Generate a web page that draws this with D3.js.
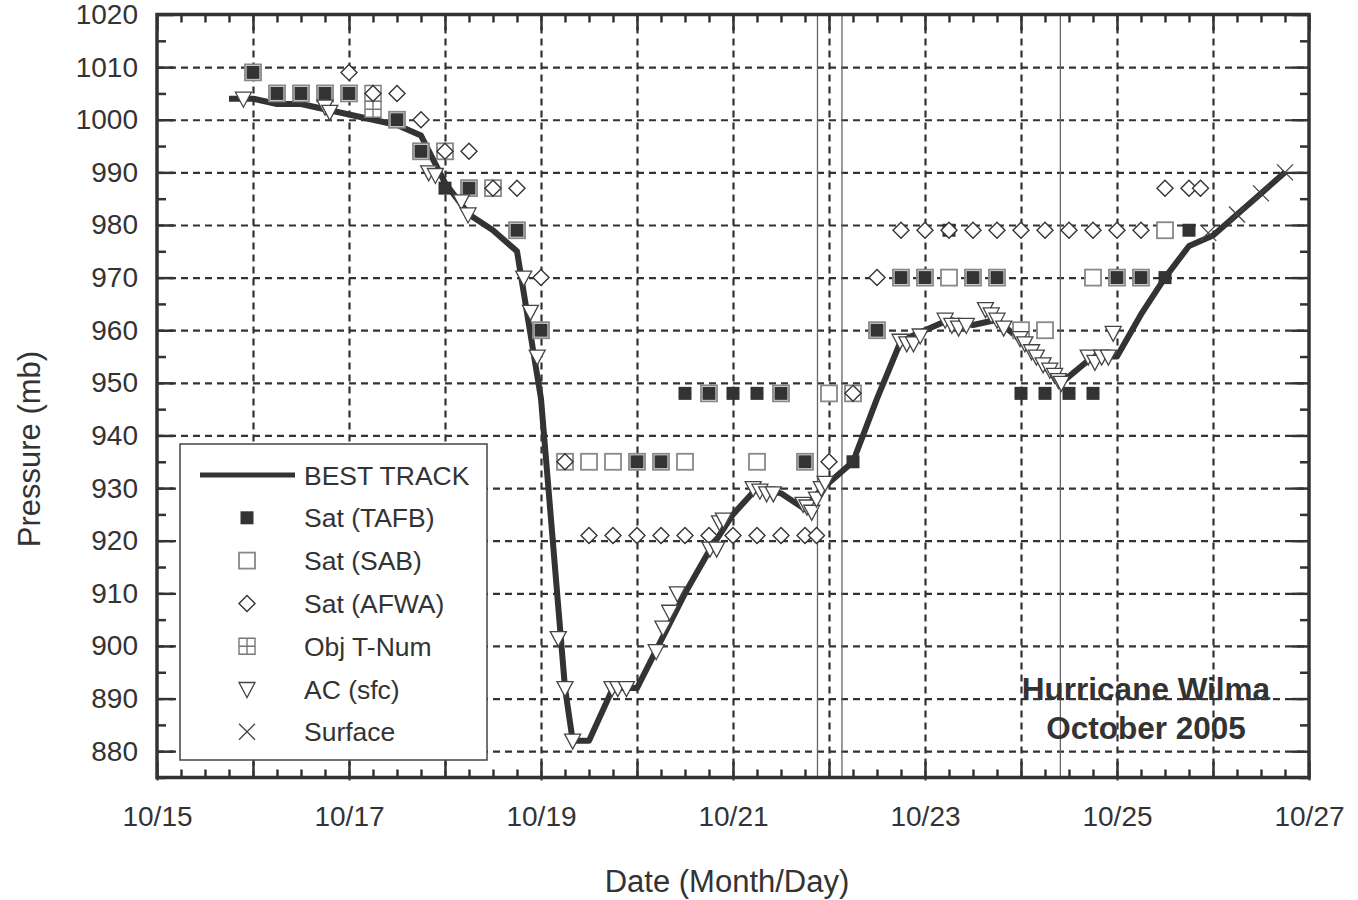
<!DOCTYPE html>
<meta charset="utf-8">
<script src="https://d3js.org/d3.v7.min.js"></script>
<style>
  body { margin: 0; background: #fff; }
  text { font-family: "Liberation Sans", Arial, Helvetica, sans-serif; fill: #333; }
</style>
<div id="my_dataviz"></div>
<script>

// data: day of October (UTC, fractional) and pressure in mb
var bestTrack = [[15.75,1004],[16,1004],[16.25,1003],[16.5,1003],[16.75,1002],[17,1001],[17.25,1000],[17.5,999],[17.75,997],
  [18,988],[18.25,982],[18.5,979],[18.75,975],[19,947],[19.25,892],[19.33,882],[19.5,882],[19.75,892],[20,892],[20.25,901],
  [20.5,910],[20.75,918],[21,925],[21.25,930],[21.5,929],[21.75,926],[21.88,929],[22,931],[22.25,935],[22.5,947],[22.75,958],
  [23,960],[23.25,962],[23.5,961],[23.75,962],[24,958],[24.25,953],[24.42,950],[24.75,955],[25,955],[25.25,963],[25.5,970],
  [25.75,976],[26,978],[26.25,982],[26.5,986],[26.75,990]];

var satTAFB = [[16,1009],[16.25,1005],[16.5,1005],[16.75,1005],[17,1005],[17.5,1000],[17.75,994],[18,987],[18.25,987],[18.75,979],
  [19,960],[20,935],[20.25,935],[21.75,935],[22.25,935],[20.5,948],[20.75,948],[21,948],[21.25,948],[21.5,948],[22.5,960],
  [22.75,970],[23,970],[23.25,979],[23.5,970],[23.75,970],[24,948],[24.25,948],[24.5,948],[24.75,948],[25,970],[25.25,970],
  [25.5,970],[25.75,979]];

var satSAB = [[16,1009],[16.25,1005],[16.5,1005],[16.75,1005],[17,1005],[17.5,1000],[17.75,994],[18,994],[18.25,987],[18.5,987],
  [18.75,979],[19,960],[19.25,935],[19.5,935],[19.75,935],[20,935],[20.25,935],[20.5,935],[21.25,935],[21.75,935],[20.75,948],
  [21.5,948],[22,948],[22.25,948],[22.5,960],[22.75,970],[23,970],[23.25,970],[23.5,970],[23.75,970],[24,960],[24.25,960],
  [24.75,970],[25,970],[25.25,970],[25.5,979]];

var satAFWA = [[17,1009],[17.25,1005],[17.5,1005],[17.75,1000],[18,994],[18.25,994],[18.5,987],[18.75,987],[19,970],[19.25,935],
  [19.5,921],[19.75,921],[20,921],[20.25,921],[20.5,921],[20.75,921],[21,921],[21.25,921],[21.5,921],[21.75,921],[21.87,921],
  [22,935],[22.25,948],[22.5,970],[22.75,979],[23,979],[23.25,979],[23.5,979],[23.75,979],[24,979],[24.25,979],[24.5,979],
  [24.75,979],[25,979],[25.25,979],[25.5,987],[25.75,987],[25.87,987]];

var objTNum = [[17.25,1005],[17.25,1002]];

var acSfc = [[15.9,1004],[16.75,1002.5],[16.8,1001.5],[17.83,990],[17.9,989.5],[18.17,984.5],[18.24,982],[18.82,970],[18.89,963.5],
  [18.96,955],[19.18,901.5],[19.25,892],[19.33,882],[19.74,892],[19.8,892],[19.89,892],[20.2,899],[20.27,903.5],[20.34,906.5],
  [20.42,910],[20.76,918.5],[20.83,918.5],[20.86,923.5],[20.9,924],[21.21,930],[21.28,929.5],[21.35,929],[21.42,929],
  [21.73,927],[21.77,926.5],[21.82,925.5],[21.87,928],[21.92,930],[21.96,931],[22.74,958],[22.81,957.5],[22.88,957.5],
  [22.95,959],[23.21,962],[23.28,961],[23.35,960.5],[23.43,961],[23.63,964],[23.69,963],[23.75,962],[23.82,960.5],
  [23.99,958.5],[24.04,957.5],[24.11,956],[24.16,955],[24.23,953.5],[24.3,952.5],[24.35,951.5],[24.39,950.5],[24.42,950],
  [24.7,955],[24.77,954],[24.84,955],[24.91,955],[24.96,959.5]];

var surface = [[25.95,978.5],[26.25,982],[26.5,986],[26.75,990]];

var landfalls = [21.88, 22.135, 24.41];

var xLabelDays = [15, 17, 19, 21, 23, 25, 27];
var yLabels = [880, 890, 900, 910, 920, 930, 940, 950, 960, 970, 980, 990, 1000, 1010, 1020];

// dimensions of the plot box
var plotL = 157, plotR = 1309, plotT = 14.5, plotB = 777.5;
var plotW = plotR - plotL, plotH = plotB - plotT;
var ink = "#333";

var svg = d3.select("#my_dataviz")
  .append("svg")
    .attr("width", 1358)
    .attr("height", 900);

var x = d3.scaleLinear().domain([15, 27]).range([plotL, plotR]);
var y = d3.scaleLinear().domain([875, 1020]).range([plotB, plotT]);

// grid
svg.append("g")
  .attr("transform", "translate(0," + plotB + ")")
  .call(d3.axisBottom(x).tickValues(d3.range(16, 27)).tickSize(-plotH).tickFormat(""))
  .call(function(g) { g.select(".domain").remove(); })
  .selectAll("line").attr("stroke", ink).attr("stroke-width", 2.2).attr("stroke-dasharray", "7,5");
svg.append("g")
  .attr("transform", "translate(" + plotL + ",0)")
  .call(d3.axisLeft(y).tickValues(d3.range(880, 1020, 10)).tickSize(-plotW).tickFormat(""))
  .call(function(g) { g.select(".domain").remove(); })
  .selectAll("line").attr("stroke", ink).attr("stroke-width", 2.2).attr("stroke-dasharray", "7,5");

// landfall lines
svg.selectAll("line.landfall")
  .data(landfalls)
  .enter()
  .append("line")
    .attr("class", "landfall")
    .attr("x1", function(d) { return x(d); })
    .attr("x2", function(d) { return x(d); })
    .attr("y1", plotT)
    .attr("y2", plotB)
    .attr("stroke", "#666")
    .attr("stroke-width", 1.3);

// inward ticks on all four sides
function ticks(axis, transform) {
  svg.append("g")
    .attr("transform", transform)
    .call(axis)
    .call(function(g) { g.select(".domain").remove(); })
    .selectAll("line").attr("stroke", ink).attr("stroke-width", 2.5);
}
var quarterDays = d3.range(15, 27.01, 0.25).filter(function(d) { return d % 1 != 0; });
var wholeDays = d3.range(15, 28);
var halfTens = d3.range(875, 1020, 10);
var tens = d3.range(880, 1021, 10);
ticks(d3.axisBottom(x).tickValues(quarterDays).tickSize(-8).tickFormat(""), "translate(0," + plotB + ")");
ticks(d3.axisTop(x).tickValues(quarterDays).tickSize(-8).tickFormat(""), "translate(0," + plotT + ")");
ticks(d3.axisBottom(x).tickValues(wholeDays).tickSize(-16).tickFormat(""), "translate(0," + plotB + ")");
ticks(d3.axisTop(x).tickValues(wholeDays).tickSize(-16).tickFormat(""), "translate(0," + plotT + ")");
ticks(d3.axisLeft(y).tickValues(halfTens).tickSize(-9).tickFormat(""), "translate(" + plotL + ",0)");
ticks(d3.axisRight(y).tickValues(halfTens).tickSize(-9).tickFormat(""), "translate(" + plotR + ",0)");
ticks(d3.axisLeft(y).tickValues(tens).tickSize(-17).tickFormat(""), "translate(" + plotL + ",0)");
ticks(d3.axisRight(y).tickValues(tens).tickSize(-17).tickFormat(""), "translate(" + plotR + ",0)");

// X axis labels
var xAxis = svg.append("g")
  .attr("transform", "translate(0," + plotB + ")")
  .call(d3.axisBottom(x).tickValues(xLabelDays).tickSize(3).tickPadding(26)
    .tickFormat(function(d) { return "10/" + d; }));
xAxis.select(".domain").remove();
xAxis.selectAll("line").attr("stroke", ink).attr("stroke-width", 2);
xAxis.selectAll("text").attr("font-size", 28).attr("fill", ink)
  .style("font-family", "'Liberation Sans', Arial, sans-serif");

// Y axis labels
var yAxis = svg.append("g")
  .attr("transform", "translate(" + plotL + ",0)")
  .call(d3.axisLeft(y).tickValues(yLabels).tickSize(0).tickPadding(19).tickFormat(d3.format("d")));
yAxis.select(".domain").remove();
yAxis.selectAll("text").attr("font-size", 28).attr("fill", ink)
  .style("font-family", "'Liberation Sans', Arial, sans-serif");

// best track line
var line = d3.line()
  .x(function(d) { return x(d[0]); })
  .y(function(d) { return y(d[1]); });
svg.append("path")
  .datum(bestTrack)
  .attr("d", line)
  .attr("fill", "none")
  .attr("stroke", ink)
  .attr("stroke-width", 6)
  .attr("stroke-linejoin", "round");

// marker shapes, drawn around 0,0
var shapes = {
  tafb: function(g) { g.append("rect").attr("x", -6.5).attr("y", -6.5).attr("width", 13).attr("height", 13).attr("fill", ink); },
  sab: function(g) { g.append("rect").attr("x", -8).attr("y", -8).attr("width", 16).attr("height", 16)
        .attr("fill", "#fff").attr("stroke", "#888").attr("stroke-width", 1.8); },
  afwa: function(g) { g.append("path").attr("d", "M0,-8L8,0L0,8L-8,0Z")
        .attr("fill", "#fff").attr("stroke", ink).attr("stroke-width", 1.4); },
  objt: function(g) { g.append("path").attr("d", "M-8,-8H8V8H-8ZM0,-8V8M-8,0H8")
        .attr("fill", "#fff").attr("stroke", "#777").attr("stroke-width", 1.4); },
  ac: function(g) { g.append("path").attr("d", "M-8,-6.5H8L0,8.5Z")
        .attr("fill", "#fff").attr("stroke", "#444").attr("stroke-width", 1.3); },
  sfc: function(g) { g.append("path").attr("d", "M-8,-8L8,8M-8,8L8,-8")
        .attr("fill", "none").attr("stroke", "#444").attr("stroke-width", 1.3); }
};

function drawMarks(data, kind) {
  svg.append("g").selectAll("g")
    .data(data)
    .enter()
    .append("g")
      .attr("transform", function(d) { return "translate(" + x(d[0]) + "," + y(d[1]) + ")"; })
      .each(function() { shapes[kind](d3.select(this)); });
}
drawMarks(satSAB, "sab");
drawMarks(objTNum, "objt");
drawMarks(satTAFB, "tafb");
drawMarks(satAFWA, "afwa");
drawMarks(acSfc, "ac");
drawMarks(surface, "sfc");

// frame
svg.append("rect")
  .attr("x", plotL).attr("y", plotT)
  .attr("width", plotW).attr("height", plotH)
  .attr("fill", "none").attr("stroke", ink).attr("stroke-width", 3.5);

// legend
var legendItems = ["BEST TRACK", "Sat (TAFB)", "Sat (SAB)", "Sat (AFWA)", "Obj T-Num", "AC (sfc)", "Surface"];
var legendKinds = ["line", "tafb", "sab", "afwa", "objt", "ac", "sfc"];
var legend = svg.append("g");
legend.append("rect")
  .attr("x", 180).attr("y", 444).attr("width", 307).attr("height", 316)
  .attr("fill", "#fff").attr("stroke", "#444").attr("stroke-width", 1.5);
legendItems.forEach(function(label, i) {
  var cy = 475 + i * 42.8;
  if (legendKinds[i] == "line") {
    legend.append("line").attr("x1", 200).attr("x2", 295).attr("y1", cy).attr("y2", cy)
      .attr("stroke", ink).attr("stroke-width", 5);
  } else {
    var g = legend.append("g").attr("transform", "translate(247," + cy + ")");
    shapes[legendKinds[i]](g);
  }
  legend.append("text")
    .attr("x", 304).attr("y", cy + 9.5)
    .attr("font-size", 26.5)
    .text(label);
});

// annotation
svg.append("text")
  .attr("x", 1146).attr("y", 700)
  .attr("text-anchor", "middle").attr("font-size", 31.5).attr("font-weight", "bold")
  .text("Hurricane Wilma");
svg.append("text")
  .attr("x", 1146).attr("y", 739)
  .attr("text-anchor", "middle").attr("font-size", 31.5).attr("font-weight", "bold")
  .text("October 2005");

// axis titles
svg.append("text")
  .attr("x", 727).attr("y", 892)
  .attr("text-anchor", "middle").attr("font-size", 31)
  .text("Date (Month/Day)");
svg.append("text")
  .attr("transform", "translate(40,449)rotate(-90)")
  .attr("text-anchor", "middle").attr("font-size", 31)
  .text("Pressure (mb)");

</script>
